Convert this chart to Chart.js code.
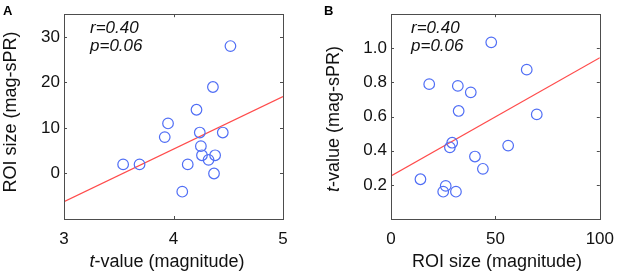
<!DOCTYPE html>
<html>
<head>
<meta charset="utf-8">
<script src="https://cdn.jsdelivr.net/npm/chart.js@4"></script>
<style>
  html, body { margin: 0; padding: 0; background: #fff; }
  #wrap { position: relative; width: 624px; height: 278px; }
  .panel { position: absolute; top: 0; width: 312px; height: 278px; }
</style>
</head>
<body>
<div id="wrap">
  <div class="panel" style="left:0"><canvas id="chartA" width="312" height="278"></canvas></div>
  <div class="panel" style="left:312px"><canvas id="chartB" width="312" height="278"></canvas></div>
</div>
<script>
// panel A: t-value (magnitude) vs ROI size (mag-sPR)
const aTValue = [3.54, 3.69, 3.92, 3.95, 4.08, 4.13, 4.21, 4.24, 4.25, 4.26, 4.32, 4.36, 4.37, 4.38, 4.45, 4.52];
const aRoiSize = [2, 2, 8, 11, -4, 2, 14, 9, 6, 4, 3, 19, 0, 4, 9, 28];
const aFitX = [3, 5];
const aFitY = [-6.2, 16.9];
const aXTicks = [3, 4, 5];
const aYTicks = [0, 10, 20, 30];

// panel B: ROI size (magnitude) vs t-value (mag-sPR)
const bRoiSize = [48, 65, 18.3, 32, 38.2, 32.4, 69.8, 29.3, 28.2, 56.1, 40.2, 44, 14.1, 26.2, 25, 31.1];
const bTValue = [1.035, 0.875, 0.79, 0.78, 0.742, 0.633, 0.613, 0.447, 0.42, 0.43, 0.366, 0.294, 0.233, 0.194, 0.16, 0.16];
const bFitX = [0, 100];
const bFitY = [0.252, 0.945];
const bXTicks = [0, 50, 100];
const bYTicks = [0.2, 0.4, 0.6, 0.8, 1.0];

const FONT = "'Liberation Sans', Arial, Helvetica, sans-serif";

function toPoints(xs, ys) {
  return xs.map((x, i) => ({ x: x, y: ys[i] }));
}

// draws text where a leading "t" is italic
function drawTitle(ctx, parts, x, y, size, rotate) {
  ctx.save();
  ctx.translate(x, y);
  if (rotate) ctx.rotate(-Math.PI / 2);
  ctx.textBaseline = 'alphabetic';
  let total = 0;
  parts.forEach(p => {
    ctx.font = (p.italic ? 'italic ' : '') + size + 'px ' + FONT;
    p.w = ctx.measureText(p.text).width;
    total += p.w;
  });
  let cx = -total / 2;
  parts.forEach(p => {
    ctx.font = (p.italic ? 'italic ' : '') + size + 'px ' + FONT;
    ctx.fillStyle = '#111';
    ctx.textAlign = 'left';
    ctx.fillText(p.text, cx, 0);
    cx += p.w;
  });
  ctx.restore();
}

// box + inward ticks + texts, matlab style
const framePlugin = {
  id: 'frame',
  afterDraw(chart, args, opts) {
    const ctx = chart.ctx;
    const a = chart.chartArea;
    const xs = chart.scales.x, ys = chart.scales.y;
    ctx.save();
    ctx.strokeStyle = '#4d4d4d';
    ctx.lineWidth = 1;
    ctx.strokeRect(Math.round(a.left) + 0.5, Math.round(a.top) + 0.5, Math.round(a.right - a.left), Math.round(a.bottom - a.top));
    const tl = 3;
    ctx.beginPath();
    opts.xTicks.forEach(v => {
      const px = Math.round(xs.getPixelForValue(v)) + 0.5;
      ctx.moveTo(px, a.bottom); ctx.lineTo(px, a.bottom - tl);
      ctx.moveTo(px, a.top); ctx.lineTo(px, a.top + tl);
    });
    opts.yTicks.forEach(v => {
      const py = Math.round(ys.getPixelForValue(v)) + 0.5;
      ctx.moveTo(a.left, py); ctx.lineTo(a.left + tl, py);
      ctx.moveTo(a.right, py); ctx.lineTo(a.right - tl, py);
    });
    ctx.stroke();

    // panel letter
    ctx.fillStyle = '#000';
    ctx.font = 'bold 13px ' + FONT;
    ctx.textAlign = 'left';
    ctx.textBaseline = 'alphabetic';
    ctx.fillText(opts.letter, opts.letterX, 15);

    // stats
    ctx.font = 'italic 17px ' + FONT;
    ctx.fillStyle = '#111';
    ctx.fillText('r=0.40', opts.statX, 33);
    ctx.fillText('p=0.06', opts.statX, 51);
    ctx.restore();

    drawTitle(ctx, opts.xTitle, opts.xTitlePos[0], opts.xTitlePos[1], 18, false);
    drawTitle(ctx, opts.yTitle, opts.yTitlePos[0], opts.yTitlePos[1], 18, true);
  }
};

function makeChart(id, cfg) {
  return new Chart(document.getElementById(id), {
    type: 'scatter',
    data: {
      datasets: [{
        data: toPoints(cfg.xs, cfg.ys),
        pointStyle: 'circle',
        pointRadius: 5.3,
        pointHoverRadius: 5.3,
        borderColor: 'rgb(80,110,245)',
        backgroundColor: 'rgba(0,0,0,0)',
        borderWidth: 1.2
      }, {
        type: 'line',
        data: toPoints(cfg.fitX, cfg.fitY),
        borderColor: 'rgb(255,75,75)',
        borderWidth: 1.2,
        pointRadius: 0,
        fill: false
      }]
    },
    options: {
      responsive: false,
      animation: false,
      devicePixelRatio: 1,
      layout: { padding: { left: 0, top: 3, right: cfg.padRight, bottom: 0 } },
      plugins: {
        legend: { display: false },
        tooltip: { enabled: false },
        frame: cfg.frame
      },
      scales: {
        x: {
          type: 'linear',
          min: cfg.xMin, max: cfg.xMax,
          afterBuildTicks: s => { s.ticks = cfg.xTicks.map(v => ({ value: v })); },
          afterFit: s => { s.height = 59; },
          grid: { display: false, drawTicks: false },
          border: { display: false },
          ticks: { color: '#111', font: { size: 17, family: FONT }, padding: 10, maxRotation: 0 }
        },
        y: {
          type: 'linear',
          min: cfg.yMin, max: cfg.yMax,
          afterBuildTicks: s => { s.ticks = cfg.yTicks.map(v => ({ value: v })); },
          afterFit: s => { s.width = cfg.left; },
          grid: { display: false, drawTicks: false },
          border: { display: false },
          ticks: { color: '#111', font: { size: 17, family: FONT }, padding: 4, callback: cfg.yFmt }
        }
      }
    },
    plugins: [framePlugin]
  });
}

makeChart('chartA', {
  xs: aTValue, ys: aRoiSize, fitX: aFitX, fitY: aFitY,
  xMin: 3, xMax: 5, yMin: -10, yMax: 35,
  xTicks: aXTicks, yTicks: aYTicks,
  left: 64, padRight: 29,
  yFmt: v => String(v),
  frame: {
    xTicks: aXTicks, yTicks: aYTicks, letter: 'A', letterX: 3, statX: 90,
    xTitle: [{ text: 't', italic: true }, { text: '-value (magnitude)' }],
    xTitlePos: [167, 267],
    yTitle: [{ text: 'ROI size (mag-sPR)' }],
    yTitlePos: [16, 112]
  }
});

makeChart('chartB', {
  xs: bRoiSize, ys: bTValue, fitX: bFitX, fitY: bFitY,
  xMin: 0, xMax: 100, yMin: 0, yMax: 1.2,
  xTicks: bXTicks, yTicks: bYTicks,
  left: 79, padRight: 15,
  yFmt: v => v.toFixed(1),
  frame: {
    xTicks: bXTicks, yTicks: bYTicks, letter: 'B', letterX: 12, statX: 99,
    xTitle: [{ text: 'ROI size (magnitude)' }],
    xTitlePos: [185, 267],
    yTitle: [{ text: 't', italic: true }, { text: '-value (mag-sPR)' }],
    yTitlePos: [27, 119]
  }
});
</script>
</body>
</html>
